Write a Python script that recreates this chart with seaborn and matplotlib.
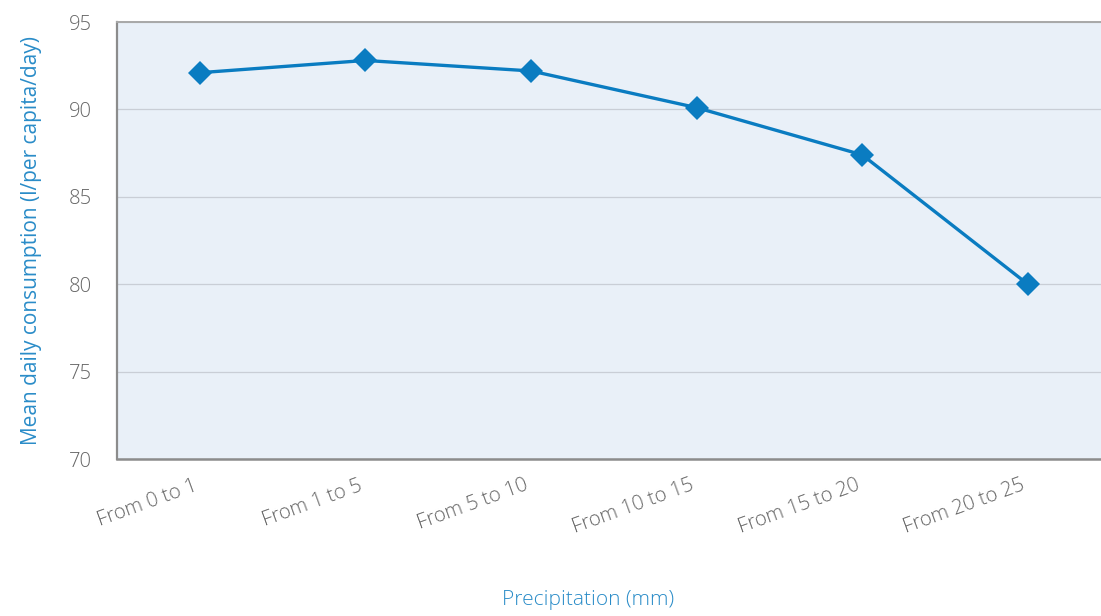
import numpy as np
import pandas as pd
import seaborn as sns
import matplotlib.pyplot as plt
import matplotlib.transforms as mtransforms
from matplotlib.ticker import FixedLocator

# Values
categories = ["From 0 to 1", "From 1 to 5", "From 5 to 10",
              "From 10 to 15", "From 15 to 20", "From 20 to 25"]
consumption = [92.1, 92.8, 92.2, 90.1, 87.4, 80.0]
y_ticks = [70, 75, 80, 85, 90, 95]

df = pd.DataFrame({"Precipitation": categories, "Consumption": consumption})

sns.set_style("white")
plt.rcParams['font.family'] = ['Open Sans', 'DejaVu Sans']
plt.rcParams['font.weight'] = 'light'

blue = "#0A7CC1"
label_blue = "#2A8CC8"
grey_text = "#666666"
spine_grey = "#8C8C8C"

fig = plt.figure(figsize=(11.01, 6.16), dpi=100)
ax = fig.add_axes([117 / 1101, 157 / 616, 993.6 / 1101, 437 / 616])
ax.set_facecolor("#E9F0F8")

sns.lineplot(data=df, x="Precipitation", y="Consumption", ax=ax, sort=False,
             color=blue, linewidth=2.4, marker="D", markersize=12.5,
             markeredgecolor=blue, markeredgewidth=0)

ax.set_xlim(-0.5, len(categories) - 0.5)
ax.set_ylim(70, 95)
ax.set_yticks(y_ticks)
ax.yaxis.grid(True, color="#C9CED6", linewidth=0.9)
ax.set_axisbelow(True)

# category boundary ticks on the x axis
ax.xaxis.set_minor_locator(FixedLocator(np.arange(-0.5, len(categories), 1.0)))
ax.tick_params(axis="x", which="major", length=0, pad=12)
ax.tick_params(axis="x", which="minor", length=5, color="#B8B8B8", width=0.8)
ax.tick_params(axis="y", which="major", length=6, color="#B8B8B8", width=0.8,
               labelsize=14.5, labelcolor=grey_text, pad=12)
shift = mtransforms.ScaledTranslation(-7 / 100, 0, fig.dpi_scale_trans)
for lbl in ax.get_xticklabels():
    lbl.set_rotation(20)
    lbl.set_ha("right")
    lbl.set_rotation_mode("anchor")
    lbl.set_fontsize(14.5)
    lbl.set_color(grey_text)
    lbl.set_transform(lbl.get_transform() + shift)

ax.spines["left"].set_color(spine_grey)
ax.spines["left"].set_linewidth(1.6)
ax.spines["bottom"].set_color(spine_grey)
ax.spines["bottom"].set_linewidth(1.8)
ax.spines["top"].set_color("#A8A8A8")
ax.spines["top"].set_linewidth(1.4)
ax.spines["right"].set_visible(False)

ax.set_xlabel("")
ax.set_ylabel("Mean daily consumption (l/per capita/day)", color=label_blue,
              fontsize=15, labelpad=19)
fig.text(588 / 1101, 1 - 600 / 616, "Precipitation (mm)", color=label_blue,
         fontsize=15, ha="center", va="center")

fig.savefig("out.png", dpi=100)
